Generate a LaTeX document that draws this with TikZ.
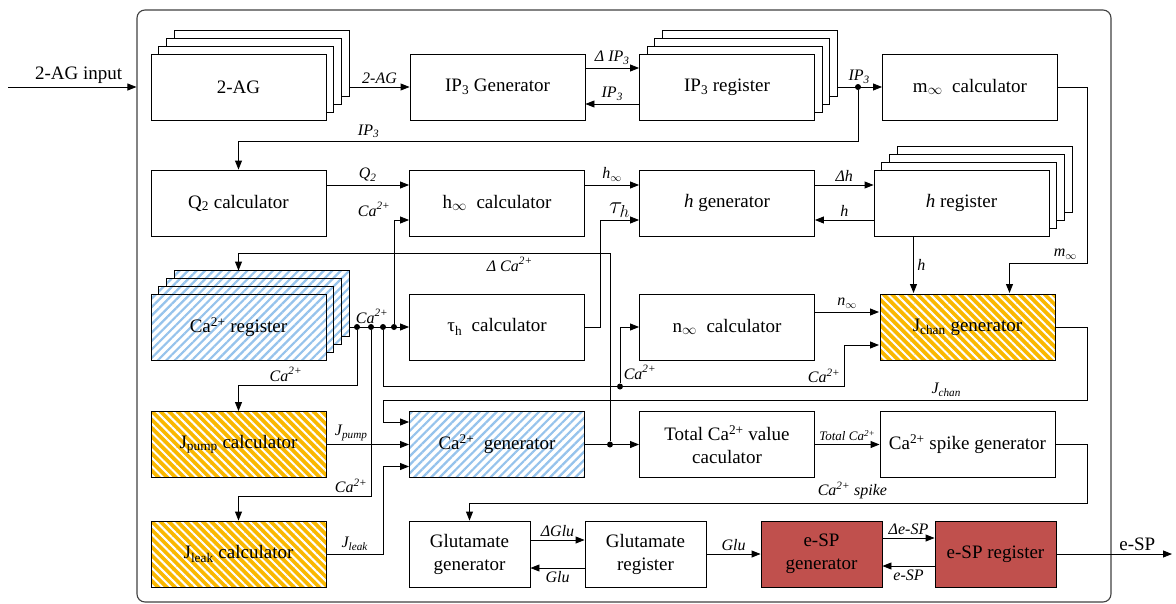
\documentclass[tikz,border=0pt]{standalone}
\usepackage{fontspec}
\setmainfont{Liberation Serif}
\usetikzlibrary{arrows.meta,patterns.meta}
\definecolor{hatchorange}{RGB}{250,184,0}
\definecolor{hatchblue}{RGB}{150,195,236}
\definecolor{espred}{RGB}{192,80,77}
\newcommand{\Ca}{Ca\textsuperscript{2+}}
\newcommand{\Stack}[4]{%
  \foreach \k in {3,2,1}
    \node[#3, xshift=7.7pt*\k, yshift=7.7pt*\k] at (#2) {};
  \node[#3] (#1) at (#2) {#4};
}

\begin{document}
\begin{tikzpicture}[x=1pt, y=-1pt, line width=0.9pt, >={Triangle[length=9pt,width=7pt]},
  blk/.style={draw, minimum width=175pt, minimum height=66pt, align=center, font=\fontsize{19}{23}\selectfont},
  wblk/.style={blk, fill=white},
  nblk/.style={blk, minimum width=121pt},
  oblk/.style={blk, preaction={fill=hatchorange}, pattern={Lines[angle=-45,distance=6pt,line width=2pt]}, pattern color=white},
  bblk/.style={blk, preaction={fill=white}, pattern={Lines[angle=45,distance=6pt,line width=2.2pt]}, pattern color=hatchblue},
  rblk/.style={nblk, fill=espred},
  dot/.style={circle, fill, inner sep=0pt, minimum size=6pt},
  lbl/.style={font=\fontsize{16}{18}\selectfont\itshape}]
\useasboundingbox (0,0) rectangle (1176,603);

\node[draw=black!75, line width=1.1pt, rounded corners=8pt, minimum width=974pt, minimum height=592pt] (frame) at (624,306) {};
\coordinate (inp) at (8,87);
\coordinate (out) at (1172,554);

% row 1
\Stack{ag}{238.5,87}{wblk}{2-AG}
\node[blk] (ipgen) at (497.5,87) {IP\textsubscript{3} Generator};
\Stack{ipreg}{727,87}{wblk}{IP\textsubscript{3} register}
\node[blk] (mcalc) at (970,87) {m$_\infty$\ \ calculator};

% row 2
\node[blk] (qcalc) at (238.5,203) {Q\textsubscript{2} calculator};
\node[blk] (hcalc) at (497,203) {h$_\infty$\ \ calculator};
\node[blk] (hgen) at (727,203) {\textit{h} generator};
\Stack{hreg}{961.5,203}{wblk}{\textit{h} register}

% row 3
\Stack{careg}{238.5,327}{bblk}{\Ca\ register}
\node[blk] (taucalc) at (497,327) {τ\textsubscript{h}\ \ calculator};
\node[blk] (ncalc) at (727,327) {n$_\infty$\ \ calculator};
\node[oblk] (jchan) at (967.5,327) {J\textsubscript{chan} generator};

% row 4
\node[oblk] (jpump) at (238.5,444.5) {J\textsubscript{pump} calculator};
\node[bblk] (cagen) at (497,444.5) {\Ca\ \ generator};
\node[blk] (total) at (727,444.5) {Total \Ca\ value\\caculator};
\node[blk] (spike) at (967.5,444.5) {\Ca\ spike generator};

% row 5
\node[oblk] (jleak) at (238.5,554) {J\textsubscript{leak} calculator};
\node[nblk] (glugen) at (469.5,554) {Glutamate\\generator};
\node[nblk] (glureg) at (645.5,554) {Glutamate\\register};
\node[rblk] (espgen) at (821.5,554) {e-SP\\generator};
\node[rblk] (espreg) at (995.5,554) {e-SP register};

% junctions
\node[dot] (ip) at (858,87) {};
\node[dot] (ca1) at (357,327) {};
\node[dot] (ca2) at (371,327) {};
\node[dot] (ca3) at (383,327) {};
\node[dot] (ca4) at (394,327) {};
\node[dot] (cn) at (620,386.5) {};
\node[dot] (cd) at (610,444.5) {};
\coordinate (mr) at (1087,263);
\coordinate (jc1) at (1087,400);
\coordinate (jc2) at (383,400);
\coordinate (sp1) at (1087,503);

\draw[->] (inp) -- (inp -| frame.west) node[pos=0.55, above, font=\fontsize{19}{21}\selectfont] {2-AG input};
\draw[->] ([xshift=23pt]ag.east) -- (ipgen.west) node[lbl, midway, above] {2-AG};
\draw[->] ([yshift=19pt]ipgen.east) -- ([yshift=19pt]ipreg.west) node[lbl, midway, above] {Δ IP\textsubscript{3}};
\draw[->] ([yshift=-17pt]ipreg.west) -- ([yshift=-17pt]ipgen.east) node[lbl, midway, above] {IP\textsubscript{3}};
\draw[->] ([xshift=23pt]ipreg.east) -- (mcalc.west) node[lbl, pos=0.48, above] {IP\textsubscript{3}};
\draw[->] (ip) |- ([yshift=28pt]qcalc.north) node[lbl, pos=0.895, above] {IP\textsubscript{3}} -- (qcalc.north);

\draw[->] ([yshift=18pt]qcalc.east) -- ([yshift=18pt]hcalc.west) node[lbl, midway, above] {Q\textsubscript{2}};
\draw[->] ([yshift=18pt]hcalc.east) -- ([yshift=18pt]hgen.west) node[lbl, midway, above] {\textit{h}$_\infty$};
\draw[->] (taucalc.east) -- ++(15,0) |- ([yshift=-17pt]hgen.west) node[pos=0.75, above, inner sep=2pt, font=\fontsize{25}{27}\selectfont] {$\tau_h$};
\draw[->] ([yshift=18pt]hgen.east) -- ([yshift=18pt]hreg.west) node[lbl, midway, above] {Δ\textit{h}};
\draw[->] ([yshift=-17pt]hreg.west) -- ([yshift=-17pt]hgen.east) node[lbl, midway, above] {\textit{h}};
\draw[->] ([xshift=-48pt]hreg.south) -- ([xshift=-48pt]hreg.south |- jchan.north) node[lbl, midway, right] {\textit{h}};
\draw[->] (mcalc.east) -| (mr) -| ([xshift=42pt]jchan.north) node[lbl, pos=0.14, above] {\textit{m}$_\infty$};

\draw[->] ([xshift=23pt]careg.east) -- (taucalc.west) node[lbl, pos=0.38, above] {\Ca};
\draw[->] (ca1) |- ([yshift=26pt]jpump.north) node[lbl, pos=0.8, above] {\Ca} -- (jpump.north);
\draw[->] (ca2) |- ([yshift=24pt]jleak.north) node[lbl, pos=0.5, above left] {\Ca} -- (jleak.north);
\draw[->] (ca3) |- ([xshift=-35pt, yshift=-59.5pt]jchan.west) node[lbl, pos=1, above left] {\Ca} |- ([yshift=-18pt]jchan.west);
\draw[->] (cn) |- (ncalc.west) node[lbl, pos=0, above right] {\Ca};
\draw[->] (ca4) |- ([yshift=-17pt]hcalc.west) node[lbl, pos=0.5, above left] {\Ca};
\draw[->] ([yshift=15pt]ncalc.east) -- ([yshift=15pt]jchan.west) node[lbl, midway, above] {\textit{n}$_\infty$};
\draw[->] (jchan.east) -| (jc1) -- (jc2) node[lbl, pos=0.2, above] {J\textsubscript{chan}} |- ([yshift=22.5pt]cagen.west);

\draw[->] (jpump.east) -- (cagen.west) node[lbl, pos=0.3, above] {J\textsubscript{pump}};
\draw[->] (jleak.east) -| ([xshift=-26pt, yshift=-22pt]cagen.west) node[lbl, pos=0.25, above] {J\textsubscript{leak}} -- ([yshift=-22pt]cagen.west);
\draw[->] (cagen.east) -- (total.west);
\draw[->] (cd) |- ([yshift=40pt]careg.north) node[lbl, pos=0.635, below] {Δ \Ca} -- ([yshift=23pt]careg.north);
\draw[->] (total.east) -- (spike.west) node[midway, above, font=\fontsize{13}{15}\selectfont\itshape] {Total \Ca};
\draw[->] (spike.east) -| (sp1) -| (glugen.north) node[lbl, pos=0.19, above] {\Ca\ spike};

\draw[->] ([yshift=14pt]glugen.east) -- ([yshift=14pt]glureg.west) node[lbl, midway, above] {ΔGlu};
\draw[->] ([yshift=-14pt]glureg.west) -- ([yshift=-14pt]glugen.east) node[lbl, midway, below] {Glu};
\draw[->] (glureg.east) -- (espgen.west) node[lbl, midway, above] {Glu};
\draw[->] ([yshift=16pt]espgen.east) -- ([yshift=16pt]espreg.west) node[lbl, midway, above] {Δe-SP};
\draw[->] ([yshift=-12pt]espreg.west) -- ([yshift=-12pt]espgen.east) node[lbl, midway, below] {e-SP};
\draw[->] (espreg.east) -- (out) node[pos=0.7, above, font=\fontsize{19}{21}\selectfont] {e-SP};
\end{tikzpicture}
\end{document}
